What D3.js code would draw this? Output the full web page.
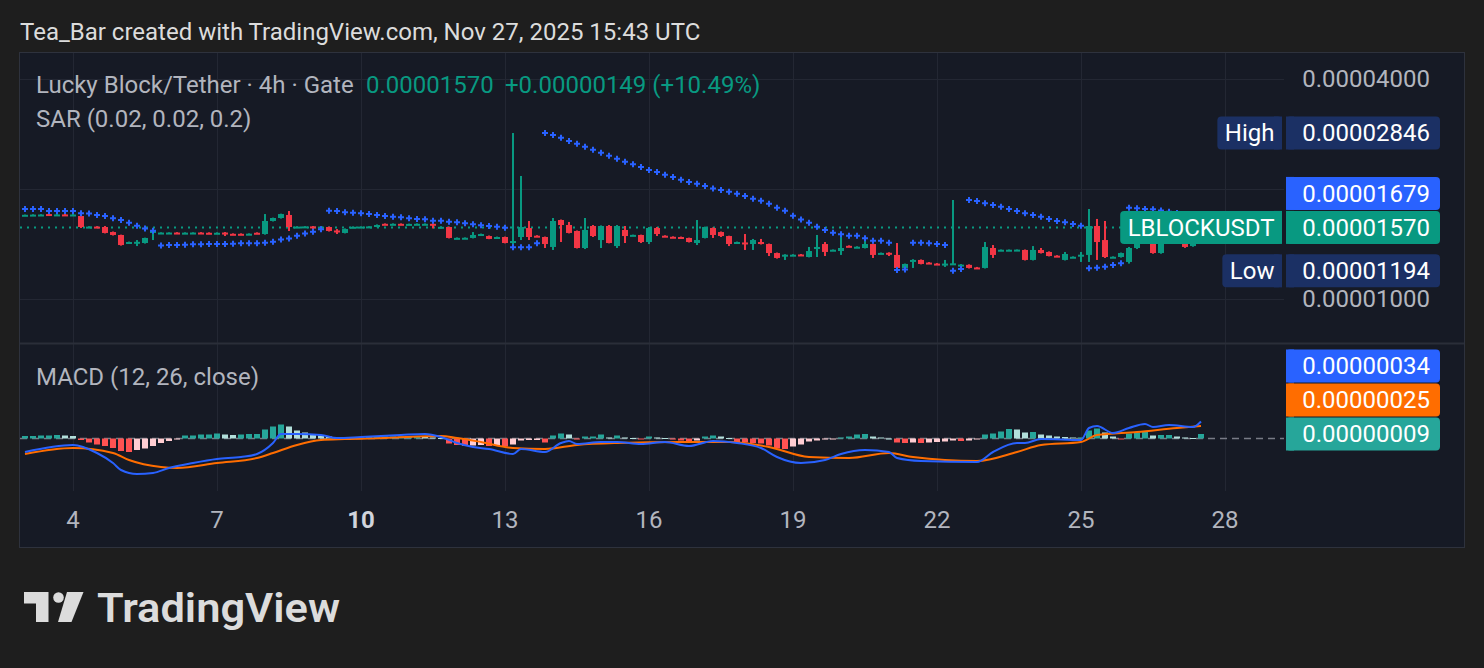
<!DOCTYPE html>
<html lang="en">
<head>
<meta charset="UTF-8">
<title>Lucky Block/Tether · 4h · Gate</title>
<script src="https://cdn.jsdelivr.net/npm/d3@7"></script>
<style>
  body { margin: 0; background: #1e1e1e; }
  svg text { font-family: Roboto, sans-serif; }
</style>
</head>
<body>
<div id="chart"></div>
<script>
// all prices / indicator values are in units of 0.00000001 USDT
const U = 1e-8;

const dayTicks = [4, 7, 10, 13, 16, 19, 22, 25, 28];
const boldDays = [10];
const priceTicks = [4000, 2000, 1000];

// 4h candles from Nov 3 00:00 UTC: [open, high, low, close]
const candles = [
  [1696,1702,1693,1700],[1700,1705,1696,1702],[1700,1706,1697,1703],[1708,1712,1700,1704],[1700,1708,1697,1704],
  [1704,1708,1695,1699],[1699,1710,1696,1703],[1687,1698,1564,1574],[1574,1582,1570,1578],[1578,1582,1568,1572],
  [1574,1584,1512,1516],[1525,1530,1492,1497],[1497,1500,1400,1405],[1428,1436,1424,1432],[1430,1450,1396,1434],
  [1423,1472,1418,1469],[1516,1540,1450,1535],[1516,1522,1512,1520],[1516,1522,1512,1520],[1520,1524,1510,1514],
  [1514,1522,1510,1519],[1516,1522,1512,1520],[1520,1524,1510,1514],[1518,1522,1508,1512],[1512,1522,1508,1518],
  [1520,1525,1487,1508],[1508,1512,1500,1504],[1508,1512,1500,1503],[1503,1512,1500,1509],[1518,1522,1510,1513],
  [1506,1708,1500,1635],[1635,1670,1630,1666],[1666,1712,1660,1708],[1698,1741,1535,1574],[1574,1582,1570,1578],
  [1576,1582,1570,1580],[1580,1584,1554,1572],[1572,1580,1568,1578],[1574,1578,1530,1535],[1540,1554,1506,1532],
  [1516,1560,1512,1554],[1568,1580,1565,1576],[1572,1580,1568,1578],[1574,1582,1570,1580],[1576,1600,1572,1594],
  [1606,1610,1598,1602],[1602,1610,1598,1606],[1606,1610,1598,1602],[1600,1608,1596,1605],[1602,1610,1598,1606],
  [1602,1610,1598,1606],[1606,1612,1560,1600],[1570,1580,1566,1576],[1574,1578,1465,1469],[1466,1474,1462,1470],
  [1467,1474,1462,1471],[1469,1525,1465,1497],[1502,1510,1498,1506],[1487,1492,1458,1460],[1474,1482,1470,1478],
  [1478,1482,1420,1423],[1423,2846,1405,1441],[1478,2171,1450,1574],[1564,1635,1450,1478],[1490,1495,1480,1486],
  [1478,1482,1379,1414],[1388,1666,1362,1635],[1645,1650,1432,1594],[1594,1625,1512,1516],[1535,1540,1375,1379],
  [1379,1666,1370,1545],[1584,1594,1478,1487],[1450,1590,1379,1584],[1584,1594,1420,1423],[1396,1594,1379,1584],
  [1545,1584,1423,1487],[1494,1500,1490,1498],[1497,1500,1423,1432],[1432,1574,1414,1564],[1564,1574,1487,1506],
  [1490,1494,1482,1486],[1480,1484,1474,1477],[1478,1482,1472,1475],[1469,1472,1428,1432],[1423,1645,1405,1450],
  [1469,1578,1465,1574],[1564,1570,1469,1497],[1525,1530,1478,1487],[1487,1490,1396,1414],[1428,1436,1424,1432],
  [1428,1506,1362,1420],[1414,1460,1362,1450],[1432,1460,1410,1414],[1414,1418,1311,1336],[1336,1340,1290,1295],
  [1316,1326,1279,1322],[1318,1326,1314,1322],[1324,1328,1314,1318],[1303,1388,1300,1353],[1370,1497,1303,1388],
  [1414,1432,1311,1345],[1358,1366,1354,1364],[1353,1487,1320,1379],[1398,1402,1390,1394],[1386,1394,1382,1390],
  [1379,1450,1375,1414],[1414,1418,1295,1320],[1332,1340,1328,1337],[1338,1342,1311,1334],[1320,1423,1200,1216],
  [1216,1250,1194,1247],[1263,1285,1216,1279],[1279,1283,1244,1247],[1258,1262,1250,1254],[1250,1254,1242,1246],
  [1244,1279,1224,1250],[1246,1866,1240,1252],[1238,1246,1234,1242],[1240,1244,1212,1216],[1220,1224,1212,1216],
  [1216,1432,1212,1388],[1379,1405,1295,1320],[1358,1366,1354,1364],[1360,1366,1354,1364],[1360,1366,1354,1365],
  [1362,1366,1275,1279],[1279,1396,1275,1362],[1362,1379,1332,1336],[1345,1350,1308,1311],[1314,1318,1306,1310],
  [1279,1345,1275,1328],[1300,1308,1296,1305],[1316,1345,1263,1322],[1320,1763,1263,1584],[1584,1656,1279,1432],
  [1450,1635,1295,1303],[1300,1308,1296,1305],[1303,1340,1298,1336],[1263,1388,1250,1379],[1379,1560,1370,1540],
  [1540,1620,1500,1560],[1560,1580,1330,1336],[1336,1560,1330,1530],[1530,1590,1480,1545],[1545,1580,1440,1450],
  [1440,1470,1380,1388],[1396,1440,1390,1421],[1421,1600,1415,1570]
];

// parabolic SAR, one value per candle
const sar = [
  1763,1763,1763,1741,1741,1741,1741,1716,1714,1698,1687,1663,1645,1617,1586,1560,1537,
  1400,1405,1405,1408,1411,1411,1414,1414,1414,1417,1420,1420,1420,1426,1435,1456,1465,1489,1512,1528,1551,
  1743,1741,1727,1723,1716,1708,1698,1687,1680,1673,1663,1656,1653,1638,1638,1628,1622,1612,1602,1592,1584,1577,1567,
  1385,1385,1385,1420,
  2846,2811,2763,2706,2661,2611,2562,2514,2467,2421,2375,2337,2297,2254,2226,2189,2157,2121,2090,2068,
  2038,2006,1987,1966,1942,1914,1881,1858,1823,1778,1744,1690,1650,1617,1577,1545,1519,1503,1490,1490,
  1466,1444,1444,1426,
  1200,1205,
  1426,1426,1420,1414,1405,
  1194,1208,
  1866,1854,1828,1808,1789,1763,1741,1716,1698,1680,1656,1635,1621,1604,1587,
  1213,1218,1226,1239,1252,
  1778,1771,1763,1760,1747,1732,1719,1705,1691,1679
];

// MACD line and signal line: [candle index, value]
const macdLine = [
  [0,-27],[6,-13],[9,-29],[11,-49],[12,-63],[14,-71],[16,-69],[18,-59],[21,-49],[24,-41],[27,-37],[29,-31],
  [31,-9],[32,9],[34,9],[37,7],[39,1],[42,3],[47,7],[50,9],[52,3],[54,-9],[56,-17],[58,-21],[61,-31],[62,-21],
  [65,-27],[67,-9],[68,-5],[69,-11],[72,-7],[74,-7],[77,-11],[80,-7],[83,-15],[86,-5],[89,-9],[92,-19],[94,-37],
  [97,-49],[100,-43],[102,-31],[105,-23],[108,-27],[109,-39],[112,-45],[119,-47],[121,-27],[124,-9],[125,-9],
  [127,-1],[132,-3],[133,21],[134,25],[136,11],[138,21],[140,29],[141,23],[143,27],[146,23],[147,34]
];
const signalLine = [
  [0,-31],[6,-19],[11,-29],[13,-43],[17,-57],[19,-59],[24,-49],[29,-39],[31,-29],[34,-13],[37,-3],[40,-1],
  [45,1],[52,5],[54,1],[57,-7],[61,-19],[65,-21],[69,-13],[74,-9],[82,-7],[88,-7],[93,-17],[98,-37],[103,-39],
  [108,-29],[111,-37],[119,-45],[124,-27],[127,-13],[132,-7],[134,7],[139,13],[144,21],[147,25]
];
// MACD histogram, one value per candle
const histogram = [
  5,5,6,6,7,6,5,-3,-8,-12,
  -15,-19,-25,-27,-23,-20,-15,-9,-5,-1,
  6,6,8,8,10,8,7,8,9,9,
  18,24,28,24,16,12,8,6,4,2,
  1,2,2,3,3,4,4,4,4,4,
  3,2,1,-10,-13,-15,-14,-13,-15,-14,
  -16,-12,-4,-3,-3,-8,6,10,8,-2,
  4,4,8,2,6,2,1,-2,4,2,
  1,-2,-4,-8,-4,4,6,4,1,-7,
  -8,-9,-10,-14,-20,-21,-16,-12,-6,-4,
  -2,-1,2,4,8,9,4,2,0,-8,
  -9,-8,-9,-8,-7,-6,-4,-5,-4,-2,
  8,10,14,19,18,12,13,8,6,4,
  3,2,2,16,20,12,4,-2,10,12,
  14,6,7,7,4,2,1,9
];

const lastPrice = 1570, prevClose = 1421, highPrice = 2846, lowPrice = 1194;

// ---------- layout ----------
const W = 1484, H = 668;
const plotLeft = 20, plotRight = 1284, panelRight = 1464;
const priceTop = 53, priceBottom = 343, macdTop = 344, macdBottom = 491, panelBottom = 547;
const fs = 24;

const green = "#089981", red = "#f23645", blue = "#2962ff", orange = "#ff6d00";
const axisText = "#b2b5be", gridColor = "#232733";

const svg = d3.select("#chart").append("svg")
    .attr("width", W).attr("height", H);

svg.append("rect").attr("width", W).attr("height", H).attr("fill", "#1e1e1e");
svg.append("rect")
    .attr("x", plotLeft - 0.5).attr("y", priceTop - 0.5)
    .attr("width", panelRight - plotLeft + 1).attr("height", panelBottom - priceTop + 1)
    .attr("fill", "#161a25").attr("stroke", "#2e323d");

svg.append("text").attr("x", 20).attr("y", 32).attr("dy", "0.35em")
    .attr("font-size", fs).attr("fill", "#dcdcdc")
    .text("Tea_Bar created with TradingView.com, Nov 27, 2025 15:43 UTC");

// scales
const start = Date.UTC(2025, 10, 3, 0);
const times = candles.map((d, i) => new Date(start + i * 4 * 3600 * 1000));
const x = d3.scaleUtc().domain([times[0], times[times.length - 1]]).range([25, 1201]);
const y = d3.scaleLog().domain([1000 * U, 4000 * U]).range([299, 79]);
const ym = d3.scaleLinear().domain([-100 * U, 100 * U]).range([488.5, 388.5]);
const cx = i => Math.round(x(times[i]));

// grid
const tickDates = dayTicks.map(d => new Date(Date.UTC(2025, 10, d)));
svg.append("g").selectAll("line").data(tickDates).join("line")
    .attr("x1", d => Math.round(x(d)) + 0.5).attr("x2", d => Math.round(x(d)) + 0.5)
    .attr("y1", priceTop).attr("y2", macdBottom)
    .attr("stroke", gridColor);
svg.append("g").selectAll("line").data(priceTicks).join("line")
    .attr("x1", plotLeft).attr("x2", plotRight)
    .attr("y1", d => Math.round(y(d * U)) + 0.5).attr("y2", d => Math.round(y(d * U)) + 0.5)
    .attr("stroke", gridColor);
svg.append("line").attr("x1", plotLeft).attr("x2", panelRight)
    .attr("y1", priceBottom + 0.5).attr("y2", priceBottom + 0.5)
    .attr("stroke", "#2a2e39").attr("stroke-width", 2);

// time axis labels
svg.append("g").selectAll("text").data(tickDates).join("text")
    .attr("x", d => x(d)).attr("y", 520).attr("dy", "0.35em")
    .attr("text-anchor", "middle").attr("font-size", fs)
    .attr("font-weight", d => boldDays.includes(d.getUTCDate()) ? "bold" : "normal")
    .attr("fill", d => boldDays.includes(d.getUTCDate()) ? "#d1d4dc" : axisText)
    .text(d => d.getUTCDate());

// ---------- price pane ----------
svg.append("clipPath").attr("id", "priceClip").append("rect")
    .attr("x", plotLeft).attr("y", priceTop).attr("width", plotRight - plotLeft).attr("height", priceBottom - priceTop);
const pp = svg.append("g").attr("clip-path", "url(#priceClip)");

// last price line
pp.append("line").attr("x1", plotLeft).attr("x2", plotRight)
    .attr("y1", y(lastPrice * U)).attr("y2", y(lastPrice * U))
    .attr("stroke", green).attr("stroke-width", 2).attr("stroke-dasharray", "2 5");

const col = d => d[3] >= d[0] ? green : red;
pp.append("g").selectAll("rect").data(candles).join("rect")
    .attr("x", (d, i) => cx(i) - 1).attr("width", 2)
    .attr("y", d => y(d[1] * U))
    .attr("height", d => y(d[2] * U) - y(d[1] * U))
    .attr("fill", col);
pp.append("g").selectAll("rect").data(candles).join("rect")
    .attr("x", (d, i) => cx(i) - 3).attr("width", 6)
    .attr("y", d => Math.min(y(d[0] * U), y(d[3] * U)))
    .attr("height", d => Math.max(2, Math.abs(y(d[0] * U) - y(d[3] * U))))
    .attr("fill", col);

// SAR crosses
pp.append("g").selectAll("path").data(sar).join("path")
    .attr("d", (d, i) => {
      const px = cx(i), py = y(d * U);
      return `M${px - 3},${py}H${px + 3}M${px},${py - 3}V${py + 3}`;
    })
    .attr("stroke", blue).attr("stroke-width", 2);

// legend
const legend = [
  {x: 36, text: "Lucky Block/Tether · 4h · Gate", fill: axisText},
  {x: 366, text: (lastPrice * U).toFixed(8), fill: green},
  {x: 505, text: "+" + ((lastPrice - prevClose) * U).toFixed(8) + " (+" + ((lastPrice - prevClose) / prevClose * 100).toFixed(2) + "%)", fill: green}
];
svg.append("g").selectAll("text").data(legend).join("text")
    .attr("x", d => d.x).attr("y", 85).attr("dy", "0.35em")
    .attr("font-size", fs).attr("fill", d => d.fill).text(d => d.text);
svg.append("text").attr("x", 36).attr("y", 119).attr("dy", "0.35em")
    .attr("font-size", fs).attr("fill", axisText).text("SAR (0.02, 0.02, 0.2)");

// ---------- MACD pane ----------
svg.append("clipPath").attr("id", "macdClip").append("rect")
    .attr("x", plotLeft).attr("y", macdTop).attr("width", plotRight - plotLeft).attr("height", macdBottom - macdTop);
const mp = svg.append("g").attr("clip-path", "url(#macdClip)");

mp.append("line").attr("x1", plotLeft).attr("x2", plotRight)
    .attr("y1", ym(0)).attr("y2", ym(0))
    .attr("stroke", "#787b86").attr("stroke-width", 1.5).attr("stroke-dasharray", "7 5");

const histColor = (d, i) => {
  const prev = i > 0 ? histogram[i - 1] : d;
  if (d >= 0) return d >= prev ? "#26a69a" : "#b2dfdb";
  return d < prev ? "#ff5252" : "#ffcdd2";
};
mp.append("g").selectAll("rect").data(histogram).join("rect")
    .attr("x", (d, i) => cx(i) - 3).attr("width", 6)
    .attr("y", d => Math.min(ym(0), ym(d * U)))
    .attr("height", d => Math.max(1, Math.abs(ym(d * U) - ym(0))))
    .attr("fill", histColor);

const line = d3.line().x(d => x(times[d[0]])).y(d => ym(d[1] * U)).curve(d3.curveMonotoneX);
mp.append("path").datum(signalLine).attr("d", line)
    .attr("fill", "none").attr("stroke", orange).attr("stroke-width", 2);
mp.append("path").datum(macdLine).attr("d", line)
    .attr("fill", "none").attr("stroke", blue).attr("stroke-width", 2);

svg.append("text").attr("x", 36).attr("y", 377).attr("dy", "0.35em")
    .attr("font-size", fs).attr("fill", axisText).text("MACD (12, 26, close)");

// ---------- price tags ----------
const tagH = 33;
const tagBoxes = [];
function tag(yc, value, fill, label) {
  tagBoxes.push([yc - tagH / 2, yc + tagH / 2]);
  const g = svg.append("g");
  g.append("rect").attr("x", 1286).attr("y", yc - tagH / 2).attr("width", 154).attr("height", tagH)
      .attr("rx", 4).attr("fill", fill);
  g.append("rect").attr("x", 1286).attr("y", yc - tagH / 2).attr("width", 8).attr("height", tagH).attr("fill", fill);
  g.append("text").attr("x", 1430).attr("y", yc).attr("dy", "0.35em").attr("text-anchor", "end")
      .attr("font-size", fs).attr("fill", "#ffffff").text((value * U).toFixed(8));
  if (label) {
    const t = g.append("text").attr("y", yc).attr("dy", "0.35em").attr("text-anchor", "middle")
        .attr("font-size", fs).attr("fill", "#ffffff").text(label);
    const w = t.node().getComputedTextLength() + 15;
    t.attr("x", 1282 - w / 2);
    g.insert("rect", "text").attr("x", 1282 - w).attr("y", yc - tagH / 2).attr("width", w).attr("height", tagH)
        .attr("rx", 4).attr("fill", fill);
    g.insert("rect", "text").attr("x", 1274).attr("y", yc - tagH / 2).attr("width", 8).attr("height", tagH)
        .attr("fill", fill);
  }
}
const hlFill = "#1b3064";
const lastY = y(lastPrice * U);
const sarLast = sar[sar.length - 1];
tag(y(highPrice * U), highPrice, hlFill, "High");
tag(Math.min(y(sarLast * U), lastY - 34), sarLast, blue);
tag(lastY, lastPrice, green, "LBLOCKUSDT");
tag(y(lowPrice * U), lowPrice, hlFill, "Low");

// price axis labels (those covered by a tag are not shown, as on the original)
const visibleTicks = priceTicks.filter(d => {
  const ty = y(d * U);
  return !tagBoxes.some(b => ty > b[0] && ty < b[1]);
});
svg.insert("g", "g").selectAll("text").data(visibleTicks).join("text")
    .attr("x", 1430).attr("y", d => y(d * U)).attr("dy", "0.35em")
    .attr("text-anchor", "end").attr("font-size", fs).attr("fill", axisText)
    .text(d => (d * U).toFixed(8));

const histLast = histogram[histogram.length - 1];
const sigLast = signalLine[signalLine.length - 1][1];
const macdLast = macdLine[macdLine.length - 1][1];
const hY = ym(histLast * U);
tag(hY, histLast, "#26a69a");
tag(Math.min(ym(sigLast * U), hY - 34), sigLast, orange);
tag(Math.min(ym(macdLast * U), hY - 68), macdLast, blue);

// ---------- TradingView logo ----------
const logo = svg.append("g").attr("fill", "#dcdcdc");
logo.append("path").attr("d", "M24,592H48.5V622H36V603.5H24Z");
logo.append("circle").attr("cx", 58.5).attr("cy", 597.5).attr("r", 5.3);
logo.append("path").attr("d", "M67,592H83.5L71.5,622H58Z");
logo.append("text").attr("x", 97).attr("y", 622)
    .attr("font-size", 40).attr("font-weight", 600).attr("font-family", "Inter, sans-serif")
    .attr("textLength", 243).attr("lengthAdjust", "spacingAndGlyphs")
    .text("TradingView");
</script>
</body>
</html>
